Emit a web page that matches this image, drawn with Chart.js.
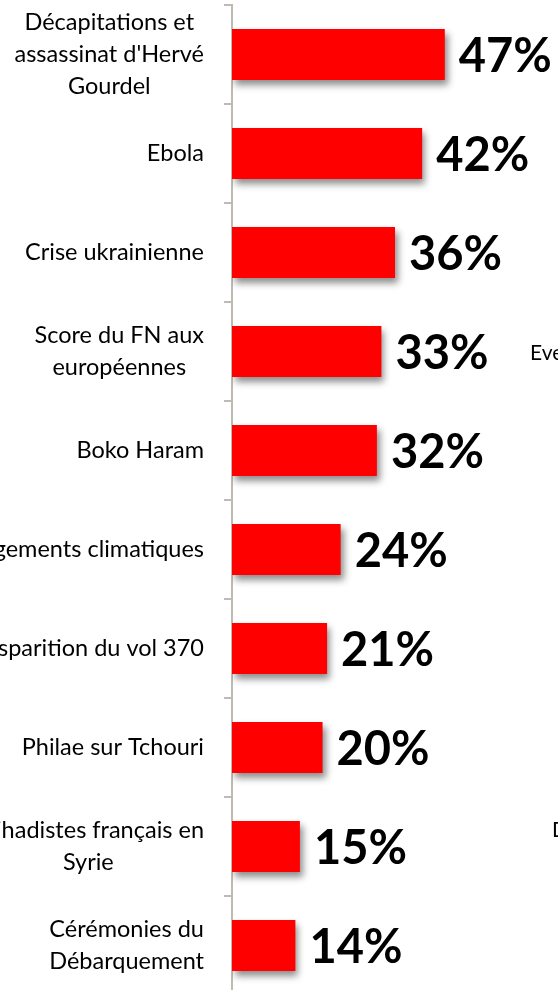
<!DOCTYPE html>
<html>
<head>
<meta charset="utf-8">
<script src="https://cdn.jsdelivr.net/npm/chart.js@4.4.0/dist/chart.umd.min.js"></script>
<style>
  html, body { margin: 0; padding: 0; background: #fff; overflow: hidden; }
  #wrap { position: absolute; left: 0; top: 0; width: 558px; height: 1000px; }
  .side { position: absolute; font-family: Lato, sans-serif; font-size: 21px; color: #000; white-space: nowrap; }
</style>
</head>
<body>
<div id="wrap"><canvas id="chart"></canvas></div>
<div class="side" style="left:530px; top:339px;">Evenements</div>
<div class="side" style="left:552px; top:816px;">Daech</div>
<script>
// categories (multi-line labels) and percentages
const categories = [
  ["Décapitations et", "assassinat d'Hervé", "Gourdel"],
  ["Ebola"],
  ["Crise ukrainienne"],
  ["Score du FN aux", "européennes"],
  ["Boko Haram"],
  ["Changements climatiques"],
  ["Disparition du vol 370"],
  ["Philae sur Tchouri"],
  ["Djihadistes français en", "Syrie"],
  ["Cérémonies du", "Débarquement"]
];
const values = [47, 42, 36, 33, 32, 24, 21, 20, 15, 14];

const axisColor = '#BFBBB2';

// drop shadow under the bars
const barShadow = {
  id: 'barShadow',
  beforeDatasetsDraw(chart) {
    const ctx = chart.ctx;
    ctx.save();
    ctx.shadowColor = 'rgba(0,0,0,0.45)';
    ctx.shadowBlur = 7;
    ctx.shadowOffsetX = 3;
    ctx.shadowOffsetY = 5;
  },
  afterDatasetsDraw(chart) {
    chart.ctx.restore();
  }
};

// percent labels at the end of each bar
const valueLabels = {
  id: 'valueLabels',
  afterDatasetsDraw(chart) {
    const ctx = chart.ctx;
    const meta = chart.getDatasetMeta(0);
    ctx.save();
    ctx.font = 'bold 47px Lato, sans-serif';
    ctx.fillStyle = '#000';
    ctx.textAlign = 'left';
    ctx.textBaseline = 'middle';
    meta.data.forEach((bar, i) => {
      ctx.fillText(values[i] + '%', bar.x + 14, bar.y + 2);
    });
    ctx.restore();
  }
};

// category labels: block right-aligned, lines centred inside the block
const catLabels = {
  id: 'catLabels',
  afterDraw(chart) {
    const ctx = chart.ctx;
    const yScale = chart.scales.y;
    const right = 204;
    const lineH = 32;
    ctx.save();
    ctx.font = '23.5px Lato, sans-serif';
    ctx.fillStyle = '#000';
    ctx.textAlign = 'center';
    ctx.textBaseline = 'middle';
    categories.forEach((lines, i) => {
      const y = yScale.getPixelForTick(i);
      const maxW = Math.max(...lines.map(l => ctx.measureText(l).width));
      const cx = right - maxW / 2;
      lines.forEach((l, j) => {
        ctx.fillText(l, cx, y + (j - (lines.length - 1) / 2) * lineH);
      });
    });
    ctx.restore();
  }
};

new Chart(document.getElementById('chart'), {
  type: 'bar',
  data: {
    labels: categories,
    datasets: [{
      data: values,
      backgroundColor: '#FF0000',
      borderWidth: 0,
      barPercentage: 0.515,
      categoryPercentage: 1
    }]
  },
  options: {
    indexAxis: 'y',
    responsive: true,
    maintainAspectRatio: false,
    animation: false,
    layout: { padding: { top: 5, bottom: 5, left: 0, right: 0 } },
    plugins: {
      legend: { display: false },
      tooltip: { enabled: false }
    },
    scales: {
      x: {
        display: false,
        min: 0,
        max: 72
      },
      y: {
        afterFit: scale => { scale.width = 232; },
        border: { display: true, color: axisColor, width: 2 },
        grid: {
          display: true,
          drawOnChartArea: false,
          drawTicks: true,
          tickLength: 8,
          offset: true,
          color: axisColor,
          lineWidth: 2
        },
        ticks: { display: false }
      }
    }
  },
  plugins: [barShadow, valueLabels, catLabels]
});
</script>
</body>
</html>
